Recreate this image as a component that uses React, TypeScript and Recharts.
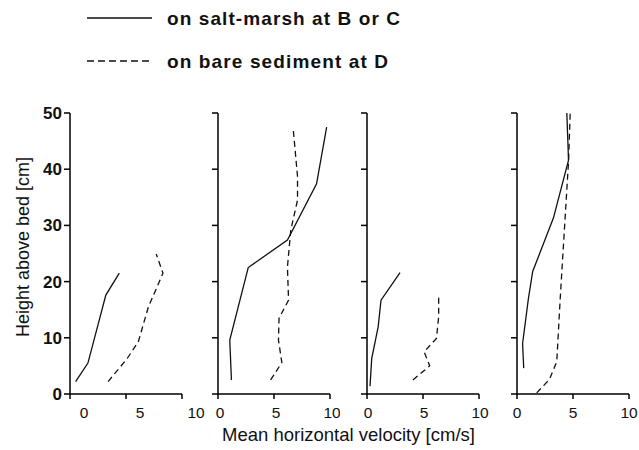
import React from 'react';
import { LineChart, Line, XAxis, YAxis } from 'recharts';

const heightTicks = [0, 10, 20, 30, 40, 50];
const velocityTicks = [0, 5, 10];

const legendLabels = ['on salt-marsh at B or C', 'on bare sediment at D'];
const xTitle = 'Mean horizontal velocity [cm/s]';
const yTitle = 'Height above bed [cm]';

// Panel 1
const p1Marsh = [
  { v: 0.5, h: 2.2 },
  { v: 1.6, h: 5.5 },
  { v: 3.2, h: 17.6 },
  { v: 4.4, h: 21.5 },
];
const p1Bare = [
  { v: 3.4, h: 2.2 },
  { v: 5.1, h: 6.3 },
  { v: 6.1, h: 9.3 },
  { v: 7.0, h: 15.5 },
  { v: 8.3, h: 21.5 },
  { v: 7.7, h: 24.9 },
];

// Panel 2
const p2Marsh = [
  { v: 1.2, h: 2.5 },
  { v: 1.05, h: 9.6 },
  { v: 2.7, h: 22.5 },
  { v: 6.2, h: 27.4 },
  { v: 8.8, h: 37.4 },
  { v: 9.7, h: 47.5 },
];
const p2Bare = [
  { v: 4.7, h: 2.5 },
  { v: 5.7, h: 5.6 },
  { v: 5.4, h: 9.6 },
  { v: 5.45, h: 13.5 },
  { v: 6.3, h: 16.7 },
  { v: 6.2, h: 22.6 },
  { v: 6.5, h: 29.2 },
  { v: 7.1, h: 34.5 },
  { v: 7.1, h: 38.7 },
  { v: 6.7, h: 47.5 },
];

// Panel 3
const p3Marsh = [
  { v: 0.27, h: 1.4 },
  { v: 0.42, h: 6.3 },
  { v: 1.0, h: 12 },
  { v: 1.25, h: 16.7 },
  { v: 2.95, h: 21.6 },
];
const p3Bare = [
  { v: 4.1, h: 2.5 },
  { v: 5.6, h: 5.0 },
  { v: 5.1, h: 7.5 },
  { v: 6.2, h: 9.9 },
  { v: 6.4, h: 13.8 },
  { v: 6.4, h: 17.7 },
];

// Panel 4
const p4Marsh = [
  { v: 0.6, h: 4.6 },
  { v: 0.5, h: 9 },
  { v: 1.0, h: 16.7 },
  { v: 1.4, h: 21.8 },
  { v: 3.25, h: 31.3 },
  { v: 4.6, h: 41.6 },
  { v: 4.45, h: 50 },
];
const p4Bare = [
  { v: 1.76, h: 0.2 },
  { v: 2.9, h: 2.6 },
  { v: 3.55, h: 5.75 },
  { v: 3.85, h: 16.7 },
  { v: 4.6, h: 41.3 },
  { v: 4.75, h: 50 },
];

const FONT = '"Liberation Sans", Arial, sans-serif';

const makeXTick = (shift: number) => (props: any) => {
  const { x, y, payload } = props;
  return (
    <text
      x={x + shift}
      y={y}
      dy={16}
      textAnchor="middle"
      fontFamily={FONT}
      fontSize={15.5}
      fill="#111"
    >
      {payload.value}
    </text>
  );
};

const makeYTick = (showLabel: boolean) => (props: any) => {
  const { x, y, payload } = props;
  if (!showLabel) return <g />;
  return (
    <text
      x={x}
      y={y}
      dy={6}
      textAnchor="end"
      fontFamily={FONT}
      fontSize={17}
      fontWeight="bold"
      fill="#111"
    >
      {payload.value}
    </text>
  );
};

type PanelProps = {
  left: number;
  width: number;
  yWidth: number;
  marsh: { v: number; h: number }[];
  bare: { v: number; h: number }[];
  showYLabels: boolean;
  labelShift: number;
};

const Panel = ({ left, width, yWidth, marsh, bare, showYLabels, labelShift }: PanelProps) => (
  <div style={{ position: 'absolute', left, top: 0 }}>
    <LineChart
      width={width}
      height={450}
      margin={{ top: 113, right: width - yWidth - 112, bottom: 26, left: 0 }}
      style={{ overflow: 'visible' }}
    >
      <XAxis
        dataKey="v"
        type="number"
        domain={[0, 10]}
        ticks={velocityTicks}
        allowDataOverflow
        height={30}
        tickSize={5}
        tickMargin={3}
        stroke="#000"
        axisLine={{ stroke: '#000', strokeWidth: 1.5 }}
        tickLine={{ stroke: '#000', strokeWidth: 1.5 }}
        tick={makeXTick(labelShift)}
      />
      <YAxis
        dataKey="h"
        type="number"
        domain={[0, 50]}
        ticks={heightTicks}
        width={yWidth}
        tickSize={6}
        tickMargin={2}
        stroke="#000"
        axisLine={{ stroke: '#000', strokeWidth: 1.5 }}
        tickLine={{ stroke: '#000', strokeWidth: 1.5 }}
        tick={makeYTick(showYLabels)}
      />
      <Line
        data={marsh}
        dataKey="h"
        type="linear"
        stroke="#111"
        strokeWidth={1.3}
        dot={false}
        isAnimationActive={false}
      />
      <Line
        data={bare}
        dataKey="h"
        type="linear"
        stroke="#111"
        strokeWidth={1.3}
        strokeDasharray="6 4"
        dot={false}
        isAnimationActive={false}
      />
    </LineChart>
  </div>
);

export default function App() {
  return (
    <div
      style={{
        position: 'absolute',
        left: 0,
        top: 0,
        width: 639,
        height: 450,
        background: '#fff',
        overflow: 'hidden',
      }}
    >
      <Panel left={0} width={210} yWidth={70} marsh={p1Marsh} bare={p1Bare} showYLabels labelShift={14} />
      <Panel left={200} width={140} yWidth={18} marsh={p2Marsh} bare={p2Bare} showYLabels={false} labelShift={2} />
      <Panel left={349} width={140} yWidth={18} marsh={p3Marsh} bare={p3Bare} showYLabels={false} labelShift={1} />
      <Panel left={499} width={140} yWidth={18} marsh={p4Marsh} bare={p4Bare} showYLabels={false} labelShift={0} />
      <svg
        width={639}
        height={450}
        style={{ position: 'absolute', left: 0, top: 0, pointerEvents: 'none' }}
      >
        <line x1={87} y1={18} x2={152} y2={18} stroke="#111" strokeWidth={1.5} />
        <text
          x={167}
          y={25}
          fontFamily={FONT}
          fontSize={19}
          fontWeight="bold"
          fill="#111"
          textLength={233}
          lengthAdjust="spacing"
        >
          {legendLabels[0]}
        </text>
        <line x1={87} y1={61} x2={152} y2={61} stroke="#111" strokeWidth={1.5} strokeDasharray="7 4" />
        <text
          x={167}
          y={68}
          fontFamily={FONT}
          fontSize={19}
          fontWeight="bold"
          fill="#111"
          textLength={221}
          lengthAdjust="spacing"
        >
          {legendLabels[1]}
        </text>
        <text x={222} y={441} fontFamily={FONT} fontSize={18.5} fill="#111">
          {xTitle}
        </text>
        <text
          x={0}
          y={0}
          transform="translate(29,247) rotate(-90)"
          textAnchor="middle"
          fontFamily={FONT}
          fontSize={18}
          fill="#111"
        >
          {yTitle}
        </text>
      </svg>
    </div>
  );
}
